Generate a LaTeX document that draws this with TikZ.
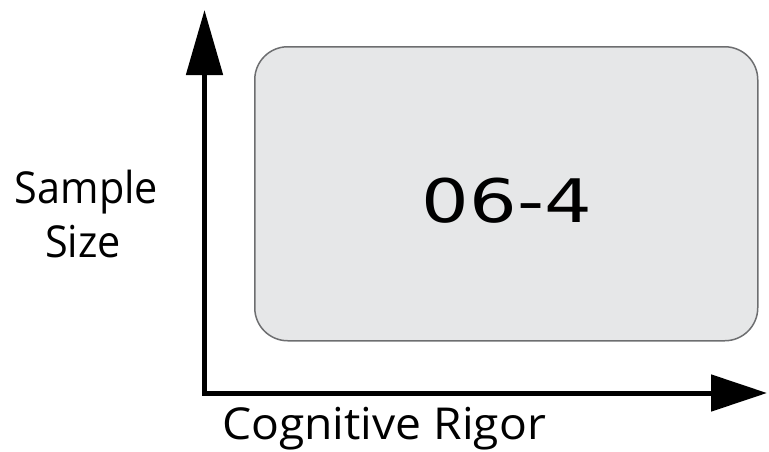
\documentclass[tikz,border=0pt]{standalone}
\usepackage{fontspec}
\setmainfont{Open Sans}
\newfontfamily\digitfont{DejaVu Sans}
\usetikzlibrary{arrows.meta}
\definecolor{boxfill}{HTML}{E6E7E8}
\definecolor{boxline}{HTML}{6D6E70}
\begin{document}
\begin{tikzpicture}[x=1pt,y=-1pt,
  axis/.style={line width=5pt,line join=miter,
    {Triangle[length=65pt,width=36pt]}-{Triangle[length=56pt,width=36pt]}},
  panel/.style={draw=boxline,fill=boxfill,line width=1.5pt,rounded corners=33pt},
  axislabel/.style={font=\fontsize{44}{54}\selectfont,inner sep=0pt,anchor=base}]
\useasboundingbox (0,0) rectangle (769,451);
% axes
\coordinate (ytip) at (204.5,10);
\coordinate (origin) at (204.5,393);
\coordinate (xtip) at (767,393);
\draw[axis] (ytip) -- (origin) -- (xtip);
% content panel
\node[panel,minimum width=503pt,minimum height=294pt,anchor=north west,inner sep=0pt] (panel) at (254,46) {};
\node[inner sep=0pt] (code) at (507,201) {\scalebox{1.25}[1]{\digitfont\fontsize{60}{60}\selectfont 06-4}};
% axis labels
\node[axislabel] (ylabel) at (86.5,203) {\scalebox{0.94}[1]{Sample}};
\node[axislabel] (ylabelb) at (83,257) {\scalebox{0.94}[1]{Size}};
\node[axislabel] (xlabel) at (384,439) {\scalebox{1.05}[1]{Cognitive Rigor}};
\end{tikzpicture}
\end{document}
